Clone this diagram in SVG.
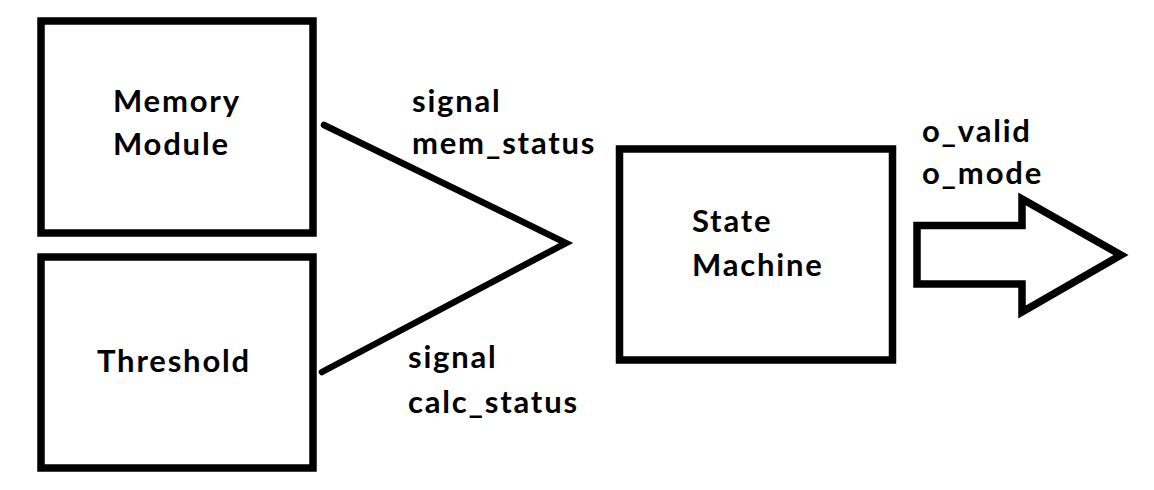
<svg xmlns="http://www.w3.org/2000/svg" width="1154" height="490" viewBox="0 0 1154 490">
<style>
.box{fill:#fff;stroke:#000;stroke-width:7.5;stroke-linejoin:miter}
.wire{fill:none;stroke:#000;stroke-width:6.5;stroke-linecap:round;stroke-linejoin:miter}
.t{font-family:Lato,"Liberation Sans",sans-serif;font-weight:bold;font-size:31px;letter-spacing:1.8px;fill:#000}
</style>
<rect width="1154" height="490" fill="#fff"/>
<g id="memory">
<rect class="box" x="41" y="21" width="272" height="212"/>
<text class="t" x="113" y="112">Memory</text>
<text class="t" x="113" y="155">Module</text>
</g>
<g id="threshold">
<rect class="box" x="41" y="257" width="272" height="211"/>
<text class="t" x="97" y="372">Threshold</text>
</g>
<g id="statemachine">
<rect class="box" x="619.5" y="149" width="273" height="211"/>
<text class="t" x="692" y="232">State</text>
<text class="t" x="692" y="276">Machine</text>
</g>
<g id="connectors">
<polyline class="wire" points="324,125 566,243 322,372"/>
<polygon class="box" points="917,225.5 1022,225.5 1022,199 1121,255 1022,312 1022,284 917,284"/>
</g>
<g id="labels">
<text class="t" x="412" y="112">signal</text>
<text class="t" x="412" y="154">mem_status</text>
<text class="t" x="408" y="368">signal</text>
<text class="t" x="408" y="413">calc_status</text>
<text class="t" x="922" y="142">o_valid</text>
<text class="t" x="922" y="184">o_mode</text>
</g>
</svg>
